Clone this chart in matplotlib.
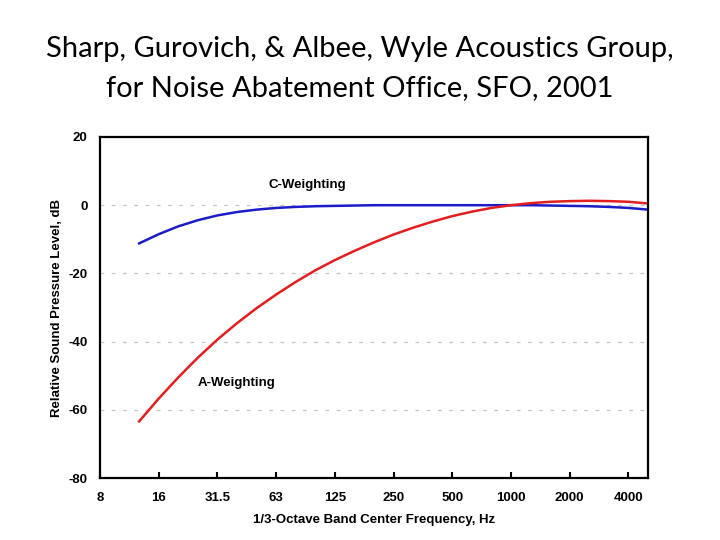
import matplotlib.pyplot as plt
import numpy as np

# 1/3-octave band centres, 12.5 Hz .. 5000 Hz
bands = [12.5, 16, 20, 25, 31.5, 40, 50, 63, 80, 100, 125, 160, 200, 250, 315,
         400, 500, 630, 800, 1000, 1250, 1600, 2000, 2500, 3150, 4000, 5000]
a_weight = [-63.4, -56.7, -50.5, -44.7, -39.4, -34.6, -30.2, -26.2, -22.5, -19.1,
            -16.1, -13.4, -10.9, -8.6, -6.6, -4.8, -3.2, -1.9, -0.8, 0.0,
            0.6, 1.0, 1.2, 1.3, 1.2, 1.0, 0.5]
c_weight = [-11.2, -8.5, -6.2, -4.4, -3.0, -2.0, -1.3, -0.8, -0.5, -0.3,
            -0.2, -0.1, 0.0, 0.0, 0.0, 0.0, 0.0, 0.0, 0.0, 0.0,
            0.0, -0.1, -0.2, -0.3, -0.5, -0.8, -1.3]
tick_labels = ['8', '16', '31.5', '63', '125', '250', '500', '1000', '2000', '4000']

# band index: 8 Hz = 0, one step per 1/3 octave
x = np.arange(len(bands)) + 2
tick_pos = np.arange(len(tick_labels)) * 3

plt.rcParams['font.family'] = ['Liberation Sans', 'DejaVu Sans']
plt.rcParams['axes.unicode_minus'] = False
fig = plt.figure(figsize=(7.2, 5.4), dpi=100)
fig.text(0.5, 0.874, 'Sharp, Gurovich, & Albee, Wyle Acoustics Group,\nfor Noise Abatement Office, SFO, 2001',
         ha='center', va='center', fontsize=21, family=['Lato', 'DejaVu Sans'], linespacing=1.62)

ax = fig.add_axes([0.1389, 0.1148, 0.7611, 0.6315])
for yv in [0, -20, -40, -60]:
    ax.axhline(yv, color='#c4c4c4', lw=0.9, ls=(0, (3, 6)), zorder=0)
ax.plot(x, c_weight, color='#1c1cc8', lw=1.8)
ax.plot(x, a_weight, color='#e41e1e', lw=1.8)
ax.set_xlim(0, 28)
ax.set_ylim(-80, 20)
ax.set_xticks(tick_pos)
ax.set_xticklabels(tick_labels)
ax.set_yticks([20, 0, -20, -40, -60, -80])
ax.tick_params(axis='x', direction='in', length=4, width=1.5, pad=10, labelsize=9.5)
ax.tick_params(axis='y', length=0, pad=9, labelsize=9.5)
for lab in ax.get_xticklabels() + ax.get_yticklabels():
    lab.set_fontweight('bold')
for s in ax.spines.values():
    s.set_linewidth(1.6)
ax.set_xlabel('1/3-Octave Band Center Frequency, Hz', fontsize=9.5, fontweight='bold', labelpad=7)
ax.set_ylabel('Relative Sound Pressure Level, dB', fontsize=9.5, fontweight='bold', labelpad=4)
ax.text(10.6, 5.8, 'C-Weighting', fontsize=9.5, fontweight='bold', ha='center', va='center')
ax.text(7.0, -52.2, 'A-Weighting', fontsize=9.5, fontweight='bold', ha='center', va='center')

fig.savefig('out.png', dpi=100)
